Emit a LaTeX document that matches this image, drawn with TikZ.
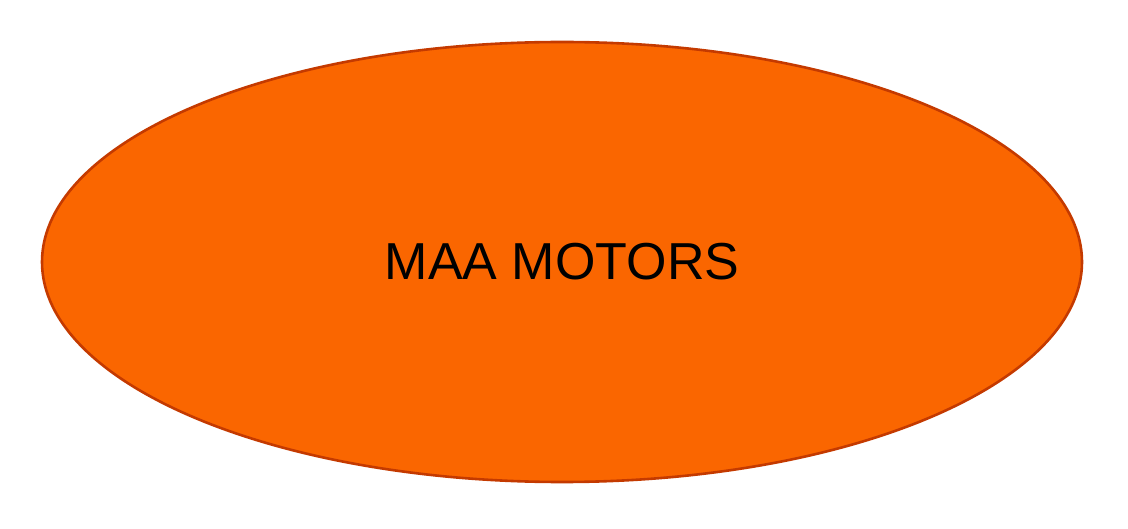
\documentclass[tikz,border=0pt]{standalone}
\usepackage{fontspec}
\setmainfont{Liberation Sans}
\usepackage{tikz}
\usetikzlibrary{shapes.geometric,positioning}
\definecolor{maaorange}{HTML}{FA6600}
\definecolor{maaedge}{HTML}{C43A00}

\begin{document}
\begin{tikzpicture}[x=1pt, y=1pt]
  \useasboundingbox (0,0) rectangle (1128,528);
  \node[draw=maaedge, line width=2.6pt, fill=maaorange, ellipse, minimum width=1040pt, minimum height=440pt, inner sep=0pt, font=\fontsize{52}{58}\selectfont] (company) at (562,266) {MAA MOTORS};
\end{tikzpicture}
\end{document}
